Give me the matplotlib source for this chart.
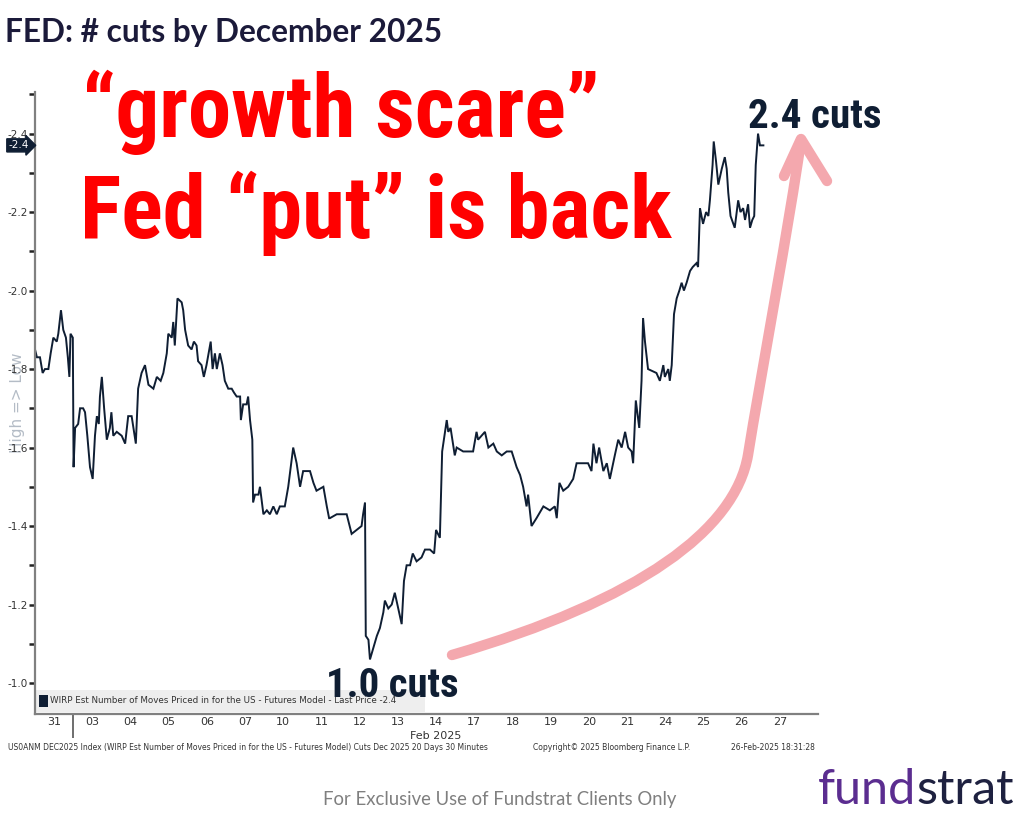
import matplotlib
matplotlib.use("Agg")
import matplotlib.pyplot as plt
import matplotlib.transforms as mtransforms
from matplotlib.patches import Rectangle, PathPatch
from matplotlib.path import Path
from matplotlib import font_manager
import numpy as np

# 交易日标签 (Jan 31 .. Feb 27)
day_labels = ["31", "03", "04", "05", "06", "07", "10", "11", "12", "13",
              "14", "17", "18", "19", "20", "21", "24", "25", "26", "27"]

# position in trading days (0 = start of Jan 31 session)
t_days = [0.00, 0.05, 0.13, 0.20, 0.26, 0.35, 0.41, 0.48, 0.57, 0.61,
          0.68, 0.74, 0.81, 0.86, 0.90, 0.93, 0.99, 1.01, 1.05, 1.13,
          1.18, 1.26, 1.31, 1.37, 1.44, 1.51, 1.57, 1.62, 1.67, 1.70,
          1.75, 1.81, 1.88, 1.96, 2.00, 2.05, 2.14, 2.27, 2.36, 2.44,
          2.53, 2.64, 2.70, 2.79, 2.88, 2.97, 3.10, 3.19, 3.29, 3.36,
          3.45, 3.49, 3.58, 3.62, 3.66, 3.73, 3.84, 3.88, 3.93, 4.01,
          4.10, 4.16, 4.23, 4.27, 4.36, 4.42, 4.49, 4.60, 4.65, 4.71,
          4.76, 4.84, 4.91, 4.97, 5.06, 5.15, 5.21, 5.28, 5.37, 5.39,
          5.45, 5.54, 5.58, 5.63, 5.69, 5.71, 5.76, 5.85, 5.89, 5.98,
          6.07, 6.15, 6.24, 6.33, 6.41, 6.54, 6.63, 6.76, 6.85, 6.94,
          7.02, 7.20, 7.29, 7.37, 7.55, 7.64, 7.70, 7.72, 7.90, 8.16,
          8.29, 8.42, 8.55, 8.59, 8.64, 8.66, 8.73, 8.77, 8.86, 8.95,
          9.03, 9.12, 9.16, 9.25, 9.34, 9.42, 9.51, 9.60, 9.66, 9.73,
          9.82, 9.89, 9.99, 10.12, 10.21, 10.34, 10.45, 10.50, 10.60, 10.66,
          10.78, 10.82, 10.88, 10.99, 11.04, 11.21, 11.47, 11.56, 11.60, 11.78,
          11.87, 12.00, 12.09, 12.22, 12.35, 12.48, 12.61, 12.70, 12.78, 12.87,
          12.91, 13.00, 13.13, 13.31, 13.48, 13.61, 13.66, 13.73, 13.83, 13.96,
          14.09, 14.18, 14.35, 14.48, 14.57, 14.62, 14.70, 14.77, 14.88, 14.97,
          15.05, 15.18, 15.27, 15.36, 15.45, 15.53, 15.62, 15.66, 15.73, 15.82,
          15.88, 15.92, 15.97, 16.05, 16.27, 16.36, 16.45, 16.49, 16.58, 16.62,
          16.67, 16.73, 16.80, 16.87, 16.93, 16.99, 17.06, 17.15, 17.22, 17.32,
          17.36, 17.41, 17.49, 17.57, 17.63, 17.67, 17.74, 17.77, 17.83, 17.89,
          17.98, 18.06, 18.11, 18.15, 18.21, 18.32, 18.41, 18.47, 18.54, 18.59,
          18.67, 18.72, 18.78, 18.83, 18.87, 18.93, 18.98, 19.07]

# WIRP est. number of moves priced in (negative = cuts)
cuts = [-1.85, -1.83, -1.83, -1.79, -1.80, -1.80, -1.84, -1.88, -1.87, -1.89,
        -1.95, -1.90, -1.88, -1.83, -1.78, -1.89, -1.88, -1.55, -1.65, -1.66,
        -1.70, -1.70, -1.69, -1.63, -1.55, -1.52, -1.63, -1.68, -1.66, -1.73,
        -1.78, -1.70, -1.62, -1.65, -1.69, -1.63, -1.64, -1.63, -1.61, -1.68,
        -1.68, -1.61, -1.75, -1.79, -1.81, -1.76, -1.75, -1.78, -1.77, -1.79,
        -1.84, -1.89, -1.88, -1.92, -1.86, -1.98, -1.97, -1.95, -1.90, -1.86,
        -1.85, -1.87, -1.86, -1.82, -1.81, -1.78, -1.81, -1.87, -1.80, -1.84,
        -1.80, -1.84, -1.81, -1.77, -1.75, -1.75, -1.74, -1.73, -1.73, -1.67,
        -1.71, -1.71, -1.73, -1.67, -1.62, -1.46, -1.48, -1.48, -1.50, -1.43,
        -1.44, -1.43, -1.45, -1.43, -1.45, -1.45, -1.50, -1.60, -1.56, -1.50,
        -1.54, -1.54, -1.51, -1.49, -1.50, -1.45, -1.42, -1.42, -1.43, -1.43,
        -1.38, -1.39, -1.40, -1.43, -1.46, -1.12, -1.11, -1.06, -1.09, -1.12,
        -1.14, -1.18, -1.21, -1.19, -1.20, -1.23, -1.19, -1.15, -1.26, -1.30,
        -1.30, -1.33, -1.31, -1.32, -1.34, -1.34, -1.33, -1.39, -1.37, -1.59,
        -1.67, -1.64, -1.65, -1.58, -1.60, -1.59, -1.59, -1.64, -1.62, -1.64,
        -1.60, -1.61, -1.59, -1.58, -1.59, -1.59, -1.55, -1.53, -1.50, -1.45,
        -1.48, -1.40, -1.42, -1.45, -1.44, -1.45, -1.42, -1.51, -1.49, -1.50,
        -1.52, -1.56, -1.56, -1.56, -1.54, -1.61, -1.56, -1.60, -1.54, -1.56,
        -1.52, -1.58, -1.62, -1.60, -1.64, -1.60, -1.59, -1.56, -1.72, -1.65,
        -1.77, -1.93, -1.87, -1.80, -1.79, -1.77, -1.81, -1.78, -1.80, -1.77,
        -1.81, -1.94, -1.98, -2.00, -2.02, -2.00, -2.02, -2.05, -2.06, -2.07,
        -2.06, -2.21, -2.17, -2.20, -2.19, -2.23, -2.32, -2.38, -2.33, -2.27,
        -2.31, -2.34, -2.31, -2.25, -2.19, -2.16, -2.23, -2.20, -2.21, -2.18,
        -2.22, -2.16, -2.18, -2.19, -2.32, -2.40, -2.37, -2.37]

y_ticks = [-2.4, -2.2, -2.0, -1.8, -1.6, -1.4, -1.2, -1.0]

navy = "#0f1e33"
installed = {f.name for f in font_manager.fontManager.ttflist}
narrow = next((n for n in ["Liberation Sans Narrow", "Arial Narrow", "Roboto Condensed"]
               if n in installed), "Liberation Sans")

W, H = 1024, 819
fig = plt.figure(figsize=(W / 100, H / 100), dpi=100, facecolor="white")
ax = fig.add_axes([35 / W, 105 / H, 783 / W, 622 / H])


def fpos(px, py):
    return px / W, 1 - py / H


ax.plot(t_days, cuts, color=navy, lw=1.4, solid_joinstyle="miter")

# axis setup (cuts up = more negative)
ax.set_xlim(0, 20.5)
ax.set_ylim(-0.921, -2.506)
for s in ["top", "right"]:
    ax.spines[s].set_visible(False)
for s in ["left", "bottom"]:
    ax.spines[s].set_color("#808080")
    ax.spines[s].set_linewidth(1.6)

ax.set_yticks(y_ticks)
ax.set_yticklabels([f"{v:.1f}" for v in y_ticks])
ax.set_yticks(np.arange(-2.5, -0.95, 0.1), minor=True)
ax.tick_params(axis="y", which="both", direction="out", length=4, width=1.8,
               color="#222222", labelsize=7.5, labelcolor="#333333", pad=1)

ax.set_xticks(np.arange(len(day_labels)) + 0.5)
ax.set_xticklabels(day_labels)
ax.set_xticks([1.0], minor=True)
ax.tick_params(axis="x", which="major", length=0, labelsize=8,
               labelcolor="#333333", pad=2)
ax.tick_params(axis="x", which="minor", length=17, width=1.2, color="#555555")
ax.text(10.5, -0.036, "Feb 2025", transform=ax.get_xaxis_transform(),
        ha="center", va="center", fontsize=8, color="#333333")

ax.text(-0.022, 0.5, "High => Low", transform=ax.transAxes, rotation=90,
        ha="center", va="center", fontsize=11, color="#b4bcc6", zorder=0)

# last value tag on the y axis
blend = mtransforms.blended_transform_factory(ax.transAxes, ax.transData)
ax.text(-0.008, cuts[-1], f"{cuts[-1]:.1f}", transform=blend, ha="right",
        va="center", fontsize=7.5, color="white",
        bbox=dict(boxstyle="rarrow,pad=0.15", fc=navy, ec=navy),
        clip_on=False)

# legend strip
ax.add_patch(Rectangle((0.0, 0.004), 0.498, 0.035, transform=ax.transAxes,
                       facecolor="#eeeeee", edgecolor="none", zorder=1))
ax.add_patch(Rectangle((0.005, 0.012), 0.011, 0.019, transform=ax.transAxes,
                       facecolor=navy, edgecolor="none", zorder=2))
ax.text(0.019, 0.021, "WIRP Est Number of Moves Priced in for the US - Futures Model - Last Price "
        f"{cuts[-1]:.1f}", transform=ax.transAxes, ha="left", va="center",
        fontsize=6.3, color="#333333", zorder=3)

# Bloomberg footer
fig.text(*fpos(8, 747),
         "US0ANM DEC2025 Index (WIRP Est Number of Moves Priced in for the US - Futures Model) "
         "Cuts Dec 2025 20 Days 30 Minutes", fontsize=5.5, color="#333333", va="center")
fig.text(*fpos(533, 747), "Copyright© 2025 Bloomberg Finance L.P.",
         fontsize=5.5, color="#333333", va="center")
fig.text(*fpos(731, 747), "26-Feb-2025 18:31:28",
         fontsize=5.5, color="#333333", va="center")

# headline + annotations; sizes fitted to the reference widths below
title = fig.text(*fpos(5, 42), "FED: # cuts by December 2025", family="Lato",
                 fontweight="bold", fontsize=22, color="#1b1a3a", va="baseline", ha="left")
line1 = fig.text(*fpos(341, 137), "\u201cgrowth scare\u201d", family=narrow,
                 fontweight="bold", fontsize=60, color="#ff0000", ha="center", va="baseline")
line2 = fig.text(*fpos(376, 238), "Fed \u201cput\u201d is back", family=narrow,
                 fontweight="bold", fontsize=60, color="#ff0000", ha="center", va="baseline")
lab_hi = fig.text(*fpos(815, 128), "2.4 cuts", family=narrow, fontweight="bold",
                  fontsize=32, color=navy, ha="center", va="baseline")
lab_lo = fig.text(*fpos(392, 697), "1.0 cuts", family=narrow, fontweight="bold",
                  fontsize=32, color=navy, ha="center", va="baseline")
note = fig.text(*fpos(500, 799), "For Exclusive Use of Fundstrat Clients Only",
                family="Lato", fontsize=13, color="#7f7f7f", ha="center", va="center")

renderer = fig.canvas.get_renderer()
for txt, width in [(title, 438), (line1, 518), (line2, 592), (lab_hi, 134),
                   (lab_lo, 133), (note, 354)]:
    w = txt.get_window_extent(renderer).width
    txt.set_fontsize(txt.get_fontsize() * width / w)

# hand-drawn pink arrow
pink = "#f4a8ae"
shaft = [(452, 655), (640, 600), (735, 530), (748, 455),
         (760, 380), (790, 220), (801, 140)]
codes = [Path.MOVETO] + [Path.CURVE4] * 6
shaft_path = Path([fpos(*p) for p in shaft], codes)
fig.add_artist(PathPatch(shaft_path, transform=fig.transFigure, fill=False,
                         edgecolor=pink, lw=7.5, capstyle="round", joinstyle="round"))
head = [(784, 176), (801, 139), (827, 181)]
fig.add_artist(plt.Line2D([fpos(*p)[0] for p in head], [fpos(*p)[1] for p in head],
                          transform=fig.transFigure, color=pink, lw=7.5,
                          solid_capstyle="round", solid_joinstyle="round"))

# Fundstrat logo
t_fund = fig.text(*fpos(818, 790), "fund", family="Lato", fontsize=35,
                  color="#5b2d90", ha="left", va="center")
ax.annotate("strat", xy=(1, 0), xycoords=t_fund, ha="left", va="bottom",
            family="Lato", fontsize=35, color="#1e2140", annotation_clip=False)

fig.savefig("out.png", dpi=100, facecolor="white")
